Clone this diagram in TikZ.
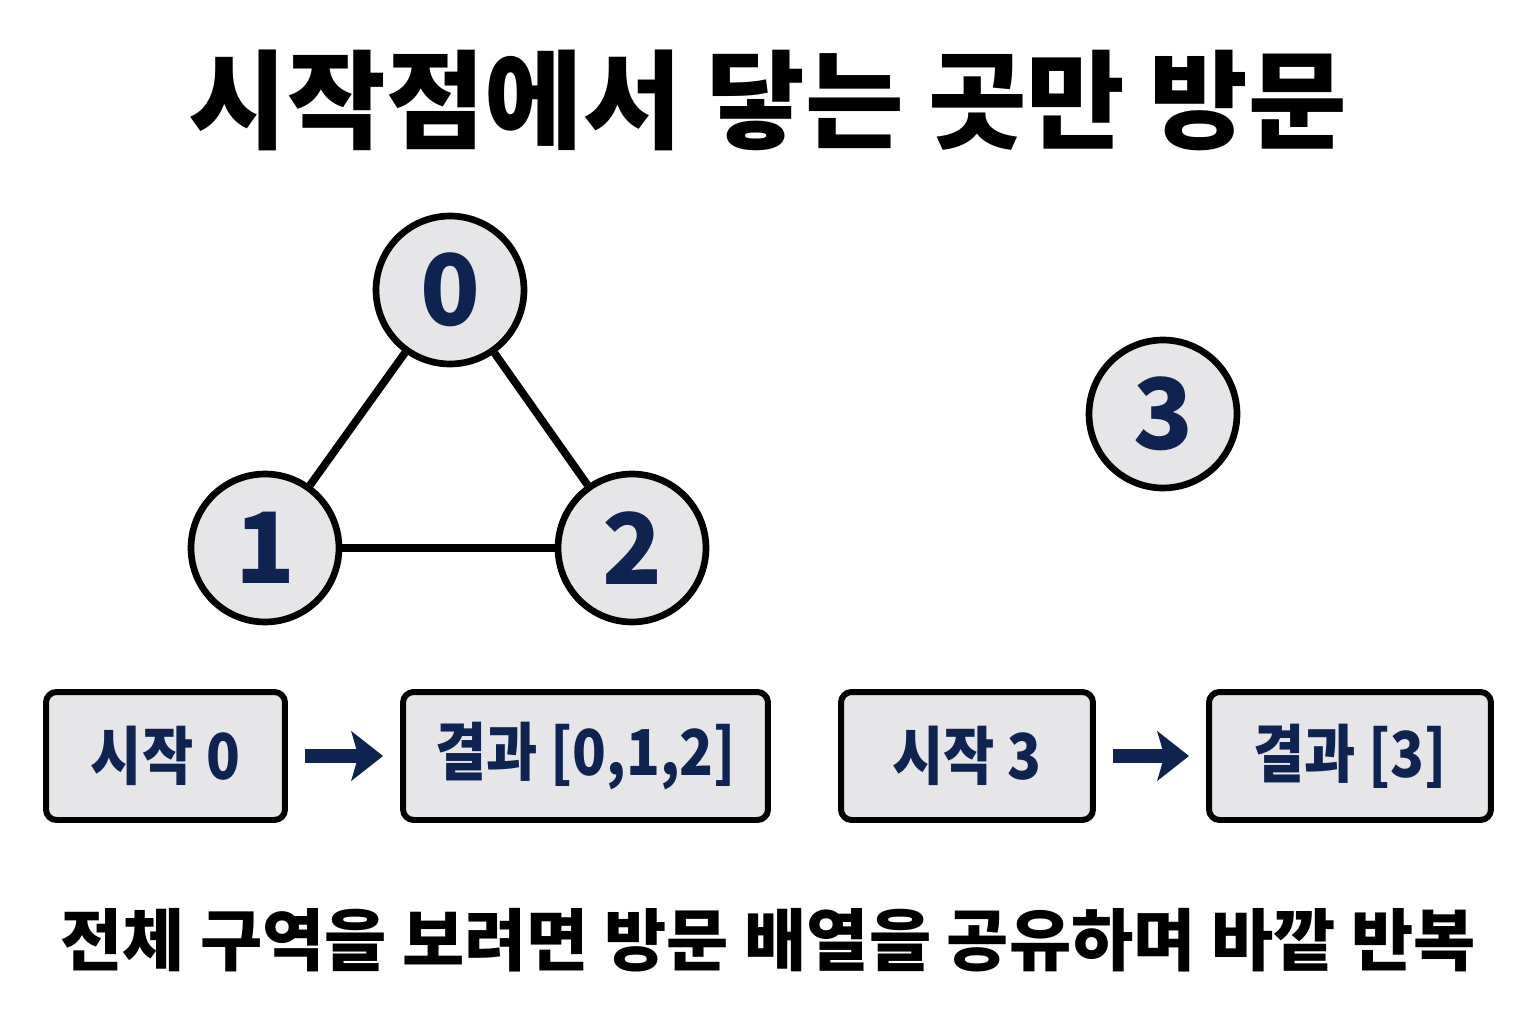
\documentclass[tikz,border=0pt]{standalone}
\usepackage{fontspec}
\setmainfont{Noto Sans CJK KR}
\usetikzlibrary{arrows.meta}
\definecolor{navy}{HTML}{0F2350}
\definecolor{nodegray}{HTML}{E6E6E8}
\newcommand{\narrowtext}[1]{\scalebox{0.88}[1]{#1}}
\begin{document}
\begin{tikzpicture}[x=0.02cm,y=-0.02cm,line width=3.8pt]
        \useasboundingbox[fill=white] (0,0) rectangle (1536,1024);

        \node (title) at (768,100) {\bfseries\fontsize{61}{64}\selectfont 시작점에서 닿는 곳만 방문};

        \begin{scope}[every node/.style={circle,draw,fill=nodegray,text=navy,
                        inner sep=0pt, minimum size=2.96cm,
                        font=\bfseries\fontsize{56}{58}\selectfont}]
            \node (n0) at (450,290) {0};
            \node (n1) at (265,548) {1};
            \node (n2) at (632,548) {2};
            \node (n3) at (1163,414) {3};
        \end{scope}

        \draw[line width=4.4pt] (n0) -- (n1);
        \draw[line width=4.4pt] (n0) -- (n2);
        \draw[line width=4.4pt] (n1) -- (n2);

        \begin{scope}[every node/.style={draw,fill=nodegray,text=navy,rounded corners=6pt,
                        line width=3.4pt,inner sep=0pt, minimum height=2.56cm,
                        font=\bfseries\fontsize{36}{40}\selectfont}]
            \node[minimum width=4.78cm] (s0) at (165.5,756) {\narrowtext{시작 0}};
            \node[minimum width=7.3cm] (r0) at (585.5,756) {\narrowtext{결과 [0,1,2]}};
            \node[minimum width=5.04cm] (s3) at (967,756) {\narrowtext{시작 3}};
            \node[minimum width=5.64cm] (r3) at (1350,756) {\narrowtext{결과 [3]}};
        \end{scope}

        \begin{scope}[navy,line width=8.5pt,shorten <=0.34cm,shorten >=0.34cm,
                      -{Stealth[length=18pt,width=28pt,inset=4pt]}]
            \draw (s0) -- (r0);
            \draw (s3) -- (r3);
        \end{scope}

        \node (note) at (768,940) {\bfseries\fontsize{38.5}{42}\selectfont 전체 구역을 보려면 방문 배열을 공유하며 바깥 반복};
    \end{tikzpicture}
\end{document}
